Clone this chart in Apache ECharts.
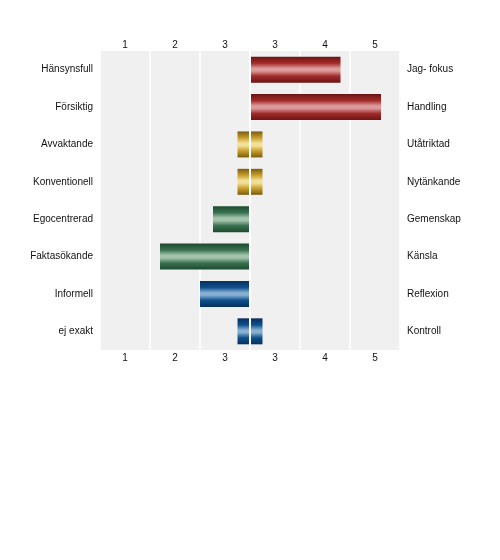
<!DOCTYPE html>
<html lang="sv">
<head>
    <meta charset="UTF-8">
    <title>Profil</title>
    <script src="https://cdn.jsdelivr.net/npm/echarts@6.0.0/dist/echarts.min.js"></script>
    <style>
        body { margin: 0; background: #fff; }
    </style>
</head>
<body>
    <div id="main" style="width: 500px; height: 560px;"></div>

    <script type="text/javascript">
        // left-hand and right-hand traits, one row each
        let leftLabels = ['Hänsynsfull', 'Försiktig', 'Avvaktande', 'Konventionell', 'Egocentrerad', 'Faktasökande', 'Informell', 'ej exakt']
        let rightLabels = ['Jag- fokus', 'Handling', 'Utåtriktad', 'Nytänkande', 'Gemenskap', 'Känsla', 'Reflexion', 'Kontroll']
        let scaleTicks = ['1', '2', '3', '3', '4', '5']

        // distance from the centre line (negative = towards the left trait)
        let rightValues = [1.81, 2.62, 0.25, 0.25, 0, 0, 0, 0.25]
        let leftValues = [0, 0, -0.25, -0.25, -0.74, -1.8, -1.0, -0.25]

        // colour per two rows: [edge, body, highlight]
        let palette = [
            ['#6a1414', '#a32a2a', '#dc9a9a'],
            ['#7a5c0e', '#c99e2c', '#f3e098'],
            ['#1e4a2e', '#3a7150', '#a3c4ac'],
            ['#08305c', '#0e4f8c', '#86afd2']
        ]

        function fillFor(i) {
            let c = palette[Math.floor(i / 2)]
            return new echarts.graphic.LinearGradient(0, 0, 0, 1, [
                {offset: 0, color: c[0]},
                {offset: 0.25, color: c[1]},
                {offset: 0.45, color: c[2]},
                {offset: 0.55, color: c[2]},
                {offset: 0.75, color: c[1]},
                {offset: 1, color: c[0]}
            ])
        }

        function toData(values) {
            return values.map((v, i) => ({value: v, itemStyle: {color: fillFor(i)}}))
        }

        let labelFont = {fontFamily: 'Liberation Sans, Arial, sans-serif', fontSize: 10, color: '#111'}

        let options = {
            animation: false,
            grid: {
                left: 100, right: 100, top: 51, bottom: 210,
                show: true, backgroundColor: '#f0f0f0', borderWidth: 0
            },
            xAxis: [
                {
                    type: 'value', min: -3, max: 3, interval: 1,
                    axisLabel: {show: false}, axisLine: {show: false}, axisTick: {show: false},
                    splitLine: {show: true, lineStyle: {color: '#ffffff', width: 1.5}}
                },
                {
                    type: 'category', position: 'top', data: scaleTicks, boundaryGap: true,
                    axisLine: {show: false}, axisTick: {show: false},
                    axisLabel: Object.assign({}, labelFont, {margin: 1})
                },
                {
                    type: 'category', position: 'bottom', data: scaleTicks, boundaryGap: true,
                    axisLine: {show: false}, axisTick: {show: false},
                    axisLabel: Object.assign({}, labelFont, {margin: 3})
                }
            ],
            yAxis: [
                {
                    type: 'category', data: leftLabels, inverse: true, position: 'left',
                    axisLine: {show: false}, axisTick: {show: false},
                    axisLabel: Object.assign({margin: 7}, labelFont)
                },
                {
                    type: 'category', data: rightLabels, inverse: true, position: 'right',
                    axisLine: {show: false}, axisTick: {show: false},
                    axisLabel: Object.assign({margin: 7}, labelFont)
                }
            ],
            series: [
                {
                    name: 'höger', type: 'bar', xAxisIndex: 0, yAxisIndex: 0,
                    barWidth: 26, barGap: '-100%',
                    data: toData(rightValues)
                },
                {
                    name: 'vänster', type: 'bar', xAxisIndex: 0, yAxisIndex: 0,
                    barWidth: 26, barGap: '-100%',
                    data: toData(leftValues),
                    markLine: {
                        silent: true, symbol: 'none', label: {show: false},
                        lineStyle: {color: '#ffffff', width: 2, type: 'solid'},
                        data: [{xAxis: 0}]
                    }
                }
            ]
        }

        let myChart = echarts.init(document.getElementById('main'))
        myChart.setOption(options)
    </script>
</body>
</html>
